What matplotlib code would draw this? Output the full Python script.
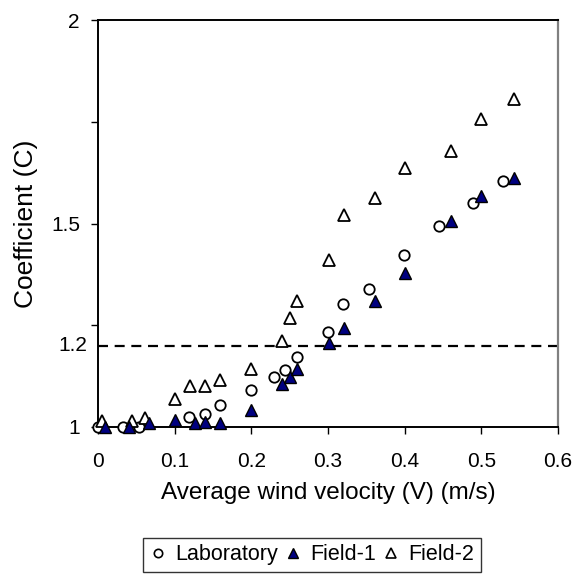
import matplotlib
matplotlib.use("Agg")
import matplotlib.pyplot as plt
from matplotlib.lines import Line2D

plt.rcParams['font.family'] = ['Liberation Sans', 'DejaVu Sans']

lab_v = [0.0, 0.032, 0.053, 0.119, 0.139, 0.159, 0.200, 0.229, 0.244, 0.259, 0.300,
         0.320, 0.354, 0.399, 0.445, 0.489, 0.528]
lab_c = [1.0, 1.0, 1.0, 1.025, 1.031, 1.053, 1.090, 1.122, 1.140, 1.173, 1.234,
         1.303, 1.339, 1.423, 1.493, 1.551, 1.604]

f1_v = [0.009, 0.040, 0.066, 0.100, 0.126, 0.140, 0.159, 0.200, 0.240, 0.250, 0.260,
        0.301, 0.321, 0.361, 0.400, 0.461, 0.500, 0.542]
f1_c = [1.0, 1.0, 1.009, 1.017, 1.011, 1.013, 1.011, 1.042, 1.105, 1.123, 1.142,
        1.207, 1.244, 1.309, 1.378, 1.507, 1.568, 1.613]

f2_v = [0.005, 0.044, 0.061, 0.100, 0.120, 0.140, 0.159, 0.200, 0.240, 0.250, 0.260,
        0.301, 0.321, 0.361, 0.400, 0.461, 0.500, 0.542]
f2_c = [1.015, 1.015, 1.023, 1.069, 1.100, 1.100, 1.115, 1.142, 1.211, 1.268, 1.309,
        1.411, 1.521, 1.563, 1.636, 1.679, 1.757, 1.807]

threshold = 1.2
x_ticks = [0, 0.1, 0.2, 0.3, 0.4, 0.5, 0.6]
x_labels = ['0', '0.1', '0.2', '0.3', '0.4', '0.5', '0.6']
y_ticks = [1.0, 1.25, 1.5, 1.75, 2.0]
y_labels = ['1', '', '1.5', '', '2']

fig = plt.figure(figsize=(5.84, 5.75), dpi=100)
ax = fig.add_axes([98/584, 1 - 427/575, 460/584, 407/575])

ax.axhline(threshold, color='black', lw=1.6, ls=(0, (4.5, 3)), zorder=1)

ax.plot(lab_v, lab_c, ls='none', marker='o', ms=7.5, mfc='white', mec='black',
        mew=1.3, label='Laboratory', zorder=3, clip_on=False)
ax.plot(f1_v, f1_c, ls='none', marker='^', ms=9, mfc='#000080', mec='black',
        mew=1.0, label='Field-1', zorder=4, clip_on=False)
ax.plot(f2_v, f2_c, ls='none', marker='^', ms=9, mfc='white', mec='black',
        mew=1.3, label='Field-2', zorder=3, clip_on=False)

ax.set_xlim(0, 0.6)
ax.set_ylim(1, 2)
ax.set_xticks(x_ticks)
ax.set_xticklabels(x_labels)
ax.set_yticks(y_ticks)
ax.set_yticklabels(y_labels)

ax.tick_params(axis='both', direction='out', length=5, width=1, labelsize=15, pad=6)
ax.tick_params(axis='x', pad=13)
ax.tick_params(axis='y', pad=8)
ax.text(-0.024, threshold, '1.2', ha='right', va='center', fontsize=15,
        transform=ax.get_yaxis_transform())
for s in ['left', 'bottom', 'top']:
    ax.spines[s].set_linewidth(1.4)
    ax.spines[s].set_color('black')
ax.spines['right'].set_color('#808080')
ax.spines['right'].set_linewidth(1.6)

ax.set_xlabel('Average wind velocity (V) (m/s)', fontsize=17.5, labelpad=8)
ax.set_ylabel('Coefficient (C)', fontsize=19, labelpad=9)

handles = [
    Line2D([], [], ls='none', marker='o', ms=6, mfc='white', mec='black', mew=1.2),
    Line2D([], [], ls='none', marker='^', ms=7, mfc='#000080', mec='black', mew=1.0),
    Line2D([], [], ls='none', marker='^', ms=7, mfc='white', mec='black', mew=1.2),
]
leg = fig.legend(handles, ['Laboratory', 'Field-1', 'Field-2'], loc='upper left',
                 bbox_to_anchor=(143/584, 1 - 538/575), ncol=3, frameon=True,
                 fancybox=False, edgecolor='black', fontsize=15.5,
                 handlelength=0.8, handletextpad=0.4, columnspacing=0.3,
                 borderpad=0.3, borderaxespad=0)
leg.get_frame().set_linewidth(1.0)

fig.savefig('out.png', dpi=100)
